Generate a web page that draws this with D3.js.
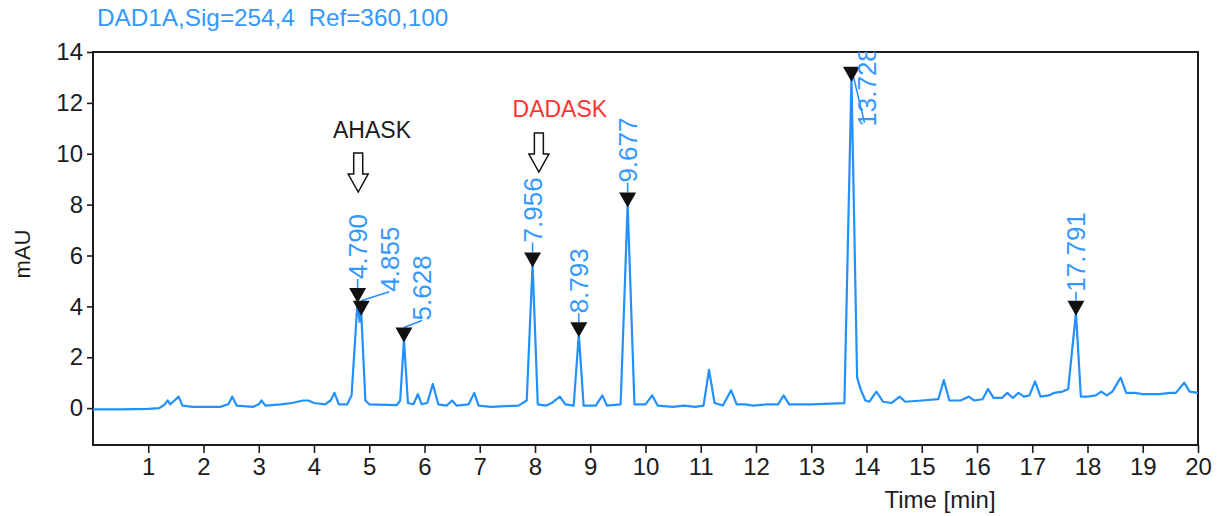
<!DOCTYPE html>
<html><head><meta charset="utf-8">
<script src="https://cdn.jsdelivr.net/npm/d3@7"></script>
<style>body{margin:0;background:#fff}svg{display:block}text{font-family:Arial,"Liberation Sans",sans-serif}</style>
</head><body>
<svg id="c" width="1217" height="516"></svg>
<script>
// ---- data ----
const title = "DAD1A,Sig=254,4  Ref=360,100";
const times  = [0.00,0.50,1.00,1.20,1.30,1.35,1.40,1.45,1.55,1.62,1.80,2.30,2.45,2.52,2.60,2.90,3.00,3.05,3.12,3.40,3.60,3.80,3.90,4.00,4.20,4.30,4.37,4.45,4.60,4.68,4.790,4.825,4.855,4.93,5.00,5.50,5.56,5.628,5.70,5.80,5.88,5.95,6.05,6.15,6.25,6.40,6.50,6.58,6.80,6.90,6.98,7.20,7.70,7.85,7.956,8.05,8.20,8.30,8.45,8.55,8.70,8.793,8.88,9.10,9.22,9.30,9.55,9.677,9.80,10.00,10.12,10.22,10.50,10.70,10.90,11.05,11.15,11.25,11.40,11.55,11.65,11.80,11.95,12.20,12.40,12.50,12.60,13.00,13.60,13.728,13.83,13.90,13.98,14.05,14.18,14.30,14.45,14.60,14.70,15.00,15.30,15.40,15.50,15.70,15.85,15.95,16.10,16.20,16.30,16.45,16.55,16.65,16.75,16.85,16.95,17.05,17.15,17.30,17.40,17.55,17.65,17.791,17.88,18.00,18.15,18.25,18.35,18.45,18.60,18.70,18.85,19.00,19.30,19.50,19.60,19.75,19.85,20.00];
const signal = [-0.05,-0.05,-0.03,0.00,0.15,0.30,0.15,0.25,0.45,0.10,0.05,0.05,0.15,0.45,0.10,0.05,0.15,0.30,0.10,0.15,0.20,0.30,0.30,0.20,0.15,0.30,0.60,0.15,0.15,0.50,4.25,3.40,3.75,0.30,0.15,0.12,0.30,2.70,0.20,0.15,0.55,0.15,0.20,0.95,0.15,0.10,0.30,0.10,0.15,0.60,0.10,0.05,0.10,0.30,5.65,0.15,0.10,0.20,0.45,0.15,0.10,2.90,0.10,0.10,0.50,0.10,0.15,8.00,0.15,0.15,0.50,0.10,0.05,0.10,0.05,0.10,1.50,0.20,0.10,0.70,0.15,0.15,0.10,0.15,0.15,0.50,0.15,0.15,0.20,12.95,1.20,0.70,0.30,0.25,0.65,0.25,0.20,0.45,0.25,0.30,0.35,1.10,0.30,0.30,0.45,0.30,0.35,0.75,0.40,0.40,0.60,0.40,0.60,0.45,0.50,1.05,0.45,0.50,0.60,0.65,0.75,3.75,0.45,0.45,0.50,0.65,0.50,0.65,1.20,0.60,0.60,0.55,0.55,0.60,0.60,1.00,0.65,0.60];
const peakRT     = [4.790, 4.855, 5.628, 7.956, 8.793, 9.677, 13.728, 17.791];
const peakHeight = [4.25, 3.75, 2.70, 5.65, 2.90, 8.00, 12.95, 3.75];
const peakLabel  = ["4.790","4.855","5.628","7.956","8.793","9.677","13.728","17.791"];
const xTicks = [1,2,3,4,5,6,7,8,9,10,11,12,13,14,15,16,17,18,19,20];
const yTicks = [0,2,4,6,8,10,12,14];
const annoNames  = ["AHASK","DADASK"];
const annoArrowT = [4.80, 8.07];
const annoTextT  = [5.05, 8.45];

// ---- layout ----
const L = 93, R = 1198, T = 52, B = 445;
const svg = d3.select("#c");
const x = d3.scaleLinear().domain([0,20]).range([L,R]);
const y = d3.scaleLinear().domain([-1.45,14]).range([B,T]);
const blue = "#2290ff", ink = "#1c1c1c";

svg.append("defs").append("clipPath").attr("id","plot")
  .append("rect").attr("x",L).attr("y",T).attr("width",R-L).attr("height",B-T);

// title
svg.append("text").attr("x",97).attr("y",26).attr("fill","#3399ff")
  .attr("font-size",24.3).style("white-space","pre").text(title);

// axes
const yAxis = d3.axisLeft(y).tickValues(yTicks).tickSize(6).tickPadding(4).tickFormat(d3.format("d"));
const gy = svg.append("g").attr("transform",`translate(${L},0)`).call(yAxis);
const xAxis = d3.axisBottom(x).tickValues(xTicks).tickSize(8).tickPadding(5).tickFormat(d3.format("d"));
const gx = svg.append("g").attr("transform",`translate(0,${B})`).call(xAxis);
[gx,gy].forEach(g=>{
  g.select(".domain").remove();
  g.selectAll(".tick line").attr("stroke",ink).attr("stroke-width",1.6);
  g.selectAll(".tick text").attr("fill",ink).attr("font-size",24).attr("font-family",'Arial,"Liberation Sans",sans-serif');
});
gx.selectAll(".tick text").attr("dy","0.71em");
svg.append("rect").attr("x",L).attr("y",T).attr("width",R-L).attr("height",B-T)
  .attr("fill","none").attr("stroke",ink).attr("stroke-width",2);

svg.append("text").attr("x",940).attr("y",508).attr("text-anchor","middle")
  .attr("font-size",24).attr("fill",ink).text("Time [min]");
svg.append("text").attr("transform","translate(30,254) rotate(-90)").attr("text-anchor","middle")
  .attr("font-size",22).attr("fill",ink).text("mAU");

// trace
const plot = svg.append("g").attr("clip-path","url(#plot)");
const pts = times.map((t,i)=>[t,signal[i]]);
plot.append("path").datum(pts).attr("fill","none").attr("stroke",blue).attr("stroke-width",2.2)
  .attr("stroke-linejoin","round")
  .attr("d", d3.line().x(d=>x(d[0])).y(d=>y(d[1])));

// peak markers and labels
const labDx  = [0, 28, 18, 0, 0, 0, 15, 0];
const labGap = [9, 9, 7, 10, 9, 10, -60, 9];
peakRT.forEach((t,i)=>{
  const px = x(t), py = y(peakHeight[i]);
  const top = py-12;
  const lx = px+labDx[i], lb = top-labGap[i];
  if (i===6) {
    plot.append("line").attr("x1",px+2).attr("y1",py-2).attr("x2",lx-2).attr("y2",lb-4)
      .attr("stroke",blue).attr("stroke-width",1.5);
  } else {
    plot.append("polyline").attr("points",`${px},${top} ${lx},${lb}`)
      .attr("fill","none").attr("stroke",blue).attr("stroke-width",1.5);
  }
  plot.append("path").attr("d",`M${px-8.5},${top}L${px+8.5},${top}L${px},${py+3}Z`).attr("fill","#111");
  plot.append("text").attr("transform",`translate(${lx},${lb}) rotate(-90)`)
    .attr("dy","0.36em").attr("font-size",26).attr("fill","#3399ff").text(peakLabel[i]);
});

// annotations (hollow arrows + names)
const annoColor = ["#1c1c1c","#ff3333"];
const arrowTop = [153,133], textBase = [138,117];
annoNames.forEach((n,i)=>{
  const ax = x(annoArrowT[i]), t0 = arrowTop[i];
  const d = `M${ax-4.5},${t0}L${ax+4.5},${t0}L${ax+4.5},${t0+21}L${ax+10},${t0+21}L${ax},${t0+39}L${ax-10},${t0+21}L${ax-4.5},${t0+21}Z`;
  svg.append("path").attr("d",d).attr("fill","#fff").attr("stroke","#111").attr("stroke-width",1.5);
  svg.append("text").attr("x",x(annoTextT[i])).attr("y",textBase[i]).attr("text-anchor","middle")
    .attr("font-size",23).attr("fill",annoColor[i]).text(n);
});
</script>
</body></html>
